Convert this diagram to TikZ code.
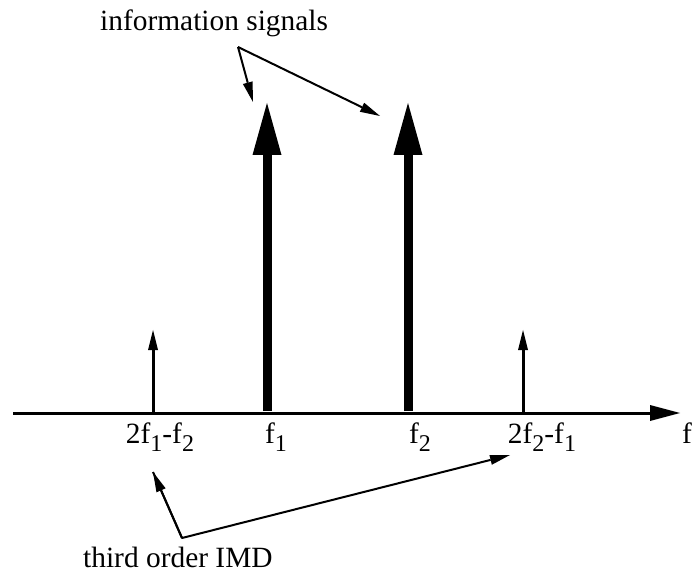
\documentclass[tikz,border=0pt]{standalone}
\usepackage{fontspec}
\setmainfont{Liberation Serif}
\usetikzlibrary{arrows.meta}
\newcommand{\lowidx}[1]{\raisebox{-8pt}{\fontsize{24}{24}\selectfont #1}}

\begin{document}
\begin{tikzpicture}[
  x=1pt,y=-1pt,
  font=\fontsize{29.4}{34}\selectfont,
  lbl/.style={inner sep=0pt,anchor=base},
  axisline/.style={line width=3pt,-{Triangle[length=30pt,width=16pt,line width=0pt]}},
  tone/.style={line width=9pt,-{Triangle[length=52pt,width=29pt,line width=0pt]}},
  spur/.style={line width=3pt,-{Triangle[length=20pt,width=10pt,line width=0pt]}},
  ptr/.style={line width=2pt,-{Triangle[length=20pt,width=10pt,line width=0pt]}}
]
\useasboundingbox (0,0) rectangle (694,580);

% frequency axis
\coordinate (axl) at (13,413);
\coordinate (axr) at (680,413);
\draw[axisline] (axl) -- (axr);
\node[lbl,anchor=base west] (fx) at (682,443) {f};

% two tones and third order products
\coordinate (b1) at (267,411); \coordinate (t1) at (267,103);
\coordinate (b2) at (408,411); \coordinate (t2) at (408,103);
\coordinate (bl) at (153,413); \coordinate (tl) at (153,330);
\coordinate (bu) at (523,413); \coordinate (tu) at (523,330);
\draw[tone] (b1) -- (t1);
\draw[tone] (b2) -- (t2);
\draw[spur] (bl) -- (tl);
\draw[spur] (bu) -- (tu);

\node[lbl] (lbl1) at (160,443) {2f\lowidx{1}-f\lowidx{2}};
\node[lbl] (lf1) at (276,443) {f\lowidx{1}};
\node[lbl] (lf2) at (420,443) {f\lowidx{2}};
\node[lbl] (lbu) at (542,443) {2f\lowidx{2}-f\lowidx{1}};

% callouts
\node[lbl,anchor=base west] (info) at (100,31) {information signals};
\coordinate (ik) at (238,47);
\coordinate (ia) at (253,102);
\coordinate (ib) at (380,116);
\draw[ptr] (ik) -- (ia);
\draw[ptr] (ik) -- (ib);

\node[lbl,anchor=base west] (imd) at (83,567) {third order IMD};
\coordinate (mk) at (182,538);
\coordinate (ma) at (153,472);
\coordinate (mb) at (510,455);
\draw[ptr,line join=round] (ma) -- (mk) -- (mb);
\draw[ptr] (mk) -- (ma);

\end{tikzpicture}
\end{document}
